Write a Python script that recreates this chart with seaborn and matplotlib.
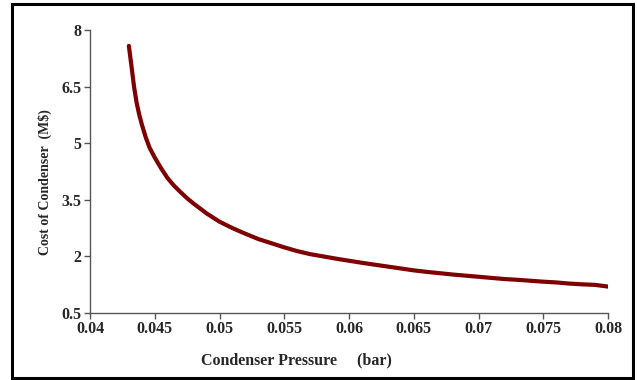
import matplotlib
matplotlib.use("Agg")
import matplotlib.pyplot as plt
import seaborn as sns
import pandas as pd
from matplotlib.patches import Rectangle

pressure = [0.0430, 0.0432, 0.0434, 0.0436, 0.0438, 0.0440, 0.0443, 0.0446, 0.0450,
            0.0455, 0.0460, 0.0465, 0.0470, 0.0475, 0.0480, 0.0490, 0.0500, 0.0510,
            0.0520, 0.0530, 0.0540, 0.0550, 0.0560, 0.0570, 0.0580, 0.0590, 0.0600,
            0.0610, 0.0620, 0.0630, 0.0640, 0.0650, 0.0660, 0.0670, 0.0680, 0.0690,
            0.0700, 0.0710, 0.0720, 0.0730, 0.0740, 0.0750, 0.0760, 0.0770, 0.0780,
            0.0790, 0.0800]
cost = [7.58, 7.05, 6.50, 6.07, 5.76, 5.50, 5.16, 4.88, 4.62,
        4.33, 4.07, 3.87, 3.70, 3.54, 3.40, 3.14, 2.92, 2.75,
        2.60, 2.46, 2.35, 2.24, 2.14, 2.06, 2.00, 1.94, 1.885,
        1.83, 1.78, 1.73, 1.68, 1.63, 1.59, 1.555, 1.52, 1.49,
        1.46, 1.43, 1.40, 1.38, 1.355, 1.33, 1.31, 1.28, 1.26,
        1.245, 1.20]
xticks = [0.04, 0.045, 0.05, 0.055, 0.06, 0.065, 0.07, 0.075, 0.08]
xticklabels = ["0.04", "0.045", "0.05", "0.055", "0.06", "0.065", "0.07", "0.075", "0.08"]
yticks = [0.5, 2, 3.5, 5, 6.5, 8]
yticklabels = ["0.5", "2", "3.5", "5", "6.5", "8"]

sns.set_style("white")
plt.rcParams['font.family'] = ['Liberation Serif', 'DejaVu Serif']

df = pd.DataFrame({"pressure": pressure, "cost": cost})

fig = plt.figure(figsize=(6.37, 3.80), dpi=100)
ax = fig.add_axes([90/637, 1-313/380, (608-90)/637, (313-30)/380])
sns.lineplot(data=df, x="pressure", y="cost", ax=ax, color="#7f0000", linewidth=3.0)

ax.set_xlim(0.04, 0.08)
ax.set_ylim(0.5, 8)
ax.set_xticks(xticks)
ax.set_xticklabels(xticklabels, fontsize=11.5, fontweight="bold")
ax.set_yticks(yticks)
ax.set_yticklabels(yticklabels, fontsize=11.5, fontweight="bold")
ax.set_xlabel("Condenser Pressure     (bar)", fontsize=11.5, fontweight="bold",
              labelpad=11, x=0.398)
ax.set_ylabel("Cost of Condenser  (M$)", fontsize=10, fontweight="bold",
              labelpad=7, y=0.463)
sns.despine(ax=ax)
for side in ["left", "bottom"]:
    ax.spines[side].set_color("#555555")
    ax.spines[side].set_linewidth(1.0)
ax.tick_params(axis="both", direction="out", length=4, width=1, color="#555555", pad=2)
ax.tick_params(axis="both", which="both", bottom=True, left=True)

fig.patches.append(Rectangle((12/637, 1-378/380), (633-12)/637, (378-4)/380,
                             transform=fig.transFigure, fill=False,
                             edgecolor="black", linewidth=2.2))

fig.savefig("out.png", dpi=100)
